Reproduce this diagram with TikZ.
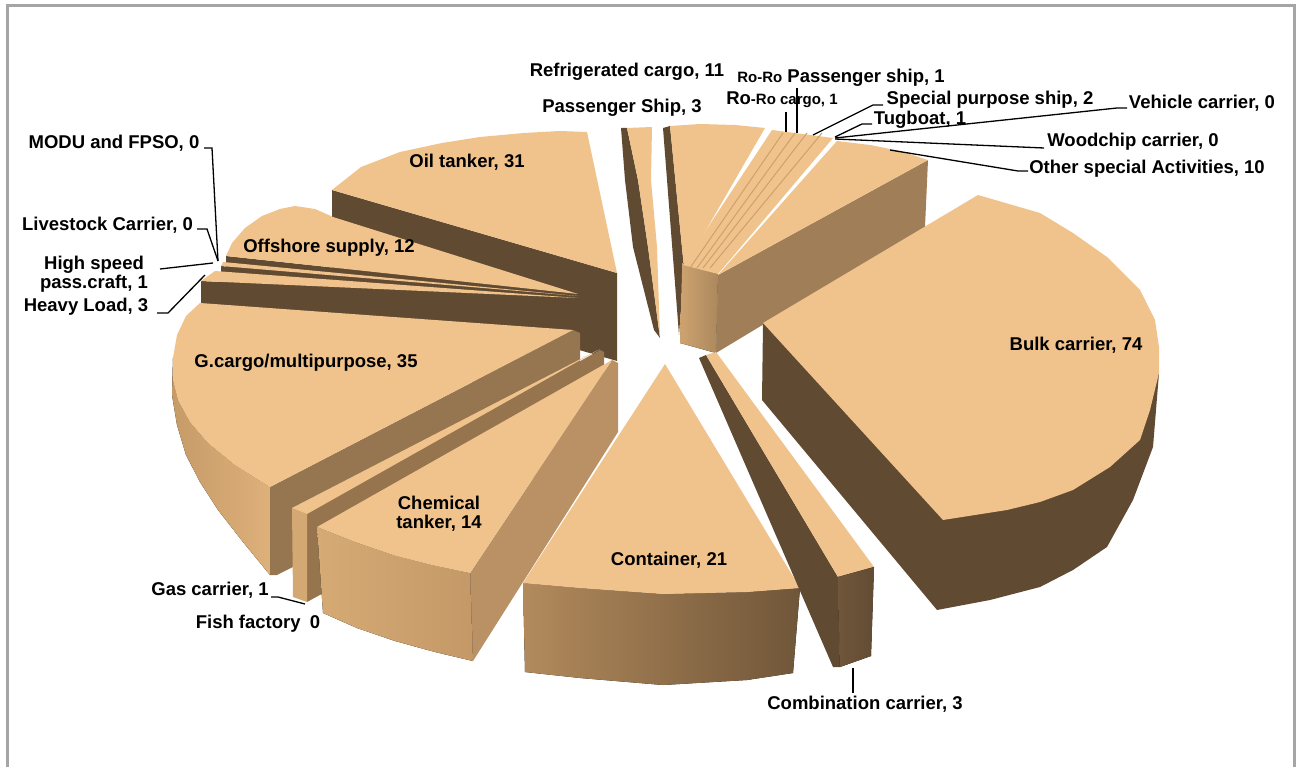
\documentclass[tikz,border=0pt]{standalone}
\usepackage{fontspec}
\setmainfont{Liberation Sans}
\definecolor{topc}{RGB}{241,195,140}
\definecolor{darkc}{RGB}{96,74,50}
\definecolor{medc}{RGB}{150,118,80}
\definecolor{sidec}{RGB}{185,145,100}
\definecolor{othc}{RGB}{160,127,88}
\definecolor{linec}{RGB}{205,160,108}
\definecolor{framec}{RGB}{165,165,165}
\definecolor{fanL}{RGB}{205,163,112}
\definecolor{fanR}{RGB}{172,136,93}
\definecolor{gcL}{RGB}{198,155,104}
\definecolor{gcR}{RGB}{222,176,122}
\definecolor{gasS}{RGB}{150,116,78}
\definecolor{gasF}{RGB}{212,168,115}
\definecolor{chL}{RGB}{214,170,116}
\definecolor{chR}{RGB}{196,153,103}
\definecolor{coL}{RGB}{178,138,92}
\definecolor{coR}{RGB}{112,86,57}
\definecolor{cbL}{RGB}{112,86,58}
\definecolor{cbR}{RGB}{98,76,52}
\newcommand\lblfont{\fontsize{18.5}{19}\selectfont\bfseries}
\newcommand\smlfont{\fontsize{15}{16}\selectfont\bfseries}
\begin{document}
\begin{tikzpicture}[x=1pt,y=-1pt,
  topface/.style={fill=topc},
  darkface/.style={fill=darkc},
  medface/.style={fill=medc},
  lbl/.style={font=\lblfont, inner sep=0pt, align=center},
  lead/.style={draw=black, line width=1.3pt}]
\useasboundingbox (0,0) rectangle (1298,767);
\clip (0,0) rectangle (1298,767);
\fill[white] (0,0) rectangle (1298,767);
\draw[framec, line width=3pt] (7.5,6) rectangle (1294.5,775);

% ---------- Oil tanker
\fill[darkface] (332,190) -- (617,273) -- (617,361) -- (332,278) -- cycle;
\fill[topface] (332,190) -- (361,167) -- (400,152) -- (442,143) -- (480,137) -- (524,133) -- (560,131) -- (587,132) -- (617,273) -- cycle;
% ---------- Offshore supply
\fill[darkface] (226,256) -- (578,294) -- (578,382) -- (226,344) -- cycle;
\fill[topface] (226,256) -- (232,243) -- (245,228) -- (262,216) -- (280,209) -- (295,206) -- (315,209) -- (333,217) -- (578,294) -- cycle;
% ---------- High speed
\fill[darkface] (221,266) -- (578,297) -- (578,385) -- (221,354) -- cycle;
\fill[topface] (223,262) -- (578,296) -- (221,266) -- cycle;
% ---------- Heavy load
\fill[darkface] (201,281) -- (578,299) -- (578,387) -- (201,369) -- cycle;
\fill[topface] (215,271) -- (578,298) -- (201,281) -- cycle;

% ---------- Passenger ship
\fill[darkface] (621,128) -- (627,128) -- (638,180) -- (648,247) -- (660,338) -- (654,330) -- (633,247) -- (625,180) -- cycle;
\fill[topface] (627,128) -- (652,127) -- (651,180) -- (657,247) -- (660,338) -- (648,247) -- (638,180) -- cycle;
% ---------- Refrigerated cargo
\fill[darkface] (663,128) -- (670,126) -- (684,268) -- (679,335) -- cycle;
\fill[topface] (670,126) -- (700,124) -- (735,125) -- (765,128) -- (684,268) -- cycle;
% ---------- Ro-Ro group
\fill[left color=fanL, right color=fanR] (682,263) -- (718,274) -- (716,353) -- (680,343) -- cycle;
\fill[topface] (772,130) -- (833,138) -- (718,274) -- (683,265) -- cycle;
\foreach \a/\b in {783/690, 795/697, 807/703, 822/710}
  \draw[linec, line width=1pt] (\a,133) -- (\b,268);
% ---------- Other special activities
\fill[othc] (718,275) -- (928,160) -- (925,227) -- (716,353) -- cycle;
\fill[topface] (718,275) -- (837,141) -- (870,145) -- (900,151) -- (928,160) -- cycle;

% ---------- G.cargo/multipurpose
\fill[left color=gcL, right color=gcR] (173,358) -- (173,380) -- (178,400) -- (190,422) -- (208,443) -- (235,465) -- (270,487) -- (270,575) -- (243,542) -- (218,510) -- (200,482) -- (186,455) -- (177,425) -- (172,395) -- cycle;
\fill[medface] (270,487) -- (573,330) -- (580,333) -- (580,421) -- (277,575) -- (270,575) -- cycle;
\fill[topface] (573,330) -- (200,303) -- (186,316) -- (177,335) -- (173,358) -- (173,380) -- (178,400) -- (190,422) -- (208,443) -- (235,465) -- (270,487) -- cycle;
% ---------- Gas carrier
\fill[gasS] (307,514) -- (600,350) -- (604,352) -- (604,440) -- (307,602) -- cycle;
\fill[gasF] (292,508) -- (307,514) -- (307,602) -- (293,597) -- cycle;
\fill[topface] (292,508) -- (600,349) -- (307,514) -- cycle;
% ---------- Chemical tanker
\fill[sidec] (470,573) -- (612,360) -- (618,363) -- (618,432) -- (473,661) -- cycle;
\fill[left color=chL, right color=chR] (317,527) -- (355,542) -- (393,555) -- (432,565) -- (470,573) -- (473,661) -- (435,652) -- (395,641) -- (357,628) -- (323,613) -- cycle;
\fill[topface] (612,360) -- (317,527) -- (355,542) -- (393,555) -- (432,565) -- (470,573) -- cycle;
% ---------- Container
\fill[left color=coL, right color=coR] (523,583) -- (580,588) -- (663,594) -- (747,592) -- (800,588) -- (793,673) -- (747,680) -- (663,685) -- (580,678) -- (525,672) -- cycle;
\fill[topface] (665,364) -- (523,583) -- (580,588) -- (663,594) -- (747,592) -- (800,588) -- cycle;
% ---------- Combination carrier
\fill[darkface] (699,358) -- (706,355) -- (838,577) -- (840,667) -- (833,667) -- cycle;
\fill[topface] (706,355) -- (716,352) -- (874,567) -- (838,577) -- cycle;
\fill[left color=cbL, right color=cbR] (838,577) -- (874,567) -- (871,656) -- (840,667) -- cycle;
% ---------- Bulk carrier
\fill[darkface] (763,323) -- (1159,373) -- (1153,447) -- (1133,500) -- (1107,547) -- (1073,570) -- (1040,587) -- (990,600) -- (937,610) -- (762,400) -- cycle;
\fill[topface] (763,323) -- (978,195) -- (1040,213) -- (1073,233) -- (1107,257) -- (1140,290) -- (1155,320) -- (1159,347) -- (1159,373) -- (1150,410) -- (1140,440) -- (1110,467) -- (1073,490) -- (1040,502) -- (1007,510) -- (943,520) -- cycle;

% ---------- Labels
\node[lbl] (modu) at (114,143) {MODU and FPSO, 0};
\node[lbl] (live) at (107.5,225) {Livestock Carrier, 0};
\node[lbl] (hsp) at (94,274) {High speed\\pass.craft, 1};
\node[lbl] (heavy) at (86,307) {Heavy Load, 3};
\node[lbl] (offs) at (329,248) {Offshore supply, 12};
\node[lbl] (oil) at (467,162) {Oil tanker, 31};
\node[lbl] (pass) at (622,108) {Passenger Ship, 3};
\node[lbl] (refr) at (627,72) {Refrigerated cargo, 11};
\node[lbl] (ropa) at (841,78) {{\smlfont Ro-Ro} Passenger ship, 1};
\node[lbl] (roca) at (782,100) {Ro{\smlfont -Ro cargo, 1}};
\node[lbl] (spec) at (990,100) {Special purpose ship, 2};
\node[lbl] (vehi) at (1202,103) {Vehicle carrier, 0};
\node[lbl] (tug) at (920,120) {Tugboat, 1};
\node[lbl] (wood) at (1133,142) {Woodchip carrier, 0};
\node[lbl] (other) at (1147,169) {Other special Activities, 10};
\node[lbl] (bulk) at (1076,345) {Bulk carrier, 74};
\node[lbl] (gcargo) at (306,363) {G.cargo/multipurpose, 35};
\node[lbl] (chem) at (439,514) {Chemical\\tanker, 14};
\node[lbl] (cont) at (669,560) {Container, 21};
\node[lbl] (comb) at (865,704) {Combination carrier, 3};
\node[lbl] (gas) at (210,590) {Gas carrier, 1};
\node[lbl] (fish) at (258,624) {Fish factory\enspace 0};

% ---------- Leader lines
\coordinate (moduA) at (204,148); \coordinate (moduB) at (212,148); \coordinate (moduE) at (218,261);
\draw[lead] (moduA) -- (moduB) -- (moduE);
\coordinate (liveA) at (197,229); \coordinate (liveB) at (207,229); \coordinate (liveE) at (218,261);
\draw[lead] (liveA) -- (liveB) -- (liveE);
\coordinate (hspA) at (160,269); \coordinate (hspE) at (213,263);
\draw[lead] (hspA) -- (hspE);
\coordinate (heavyA) at (157,313); \coordinate (heavyB) at (168,313); \coordinate (heavyE) at (205,275);
\draw[lead] (heavyA) -- (heavyB) -- (heavyE);
\coordinate (gasA) at (271,597); \coordinate (gasB) at (278,597); \coordinate (gasE) at (305,604);
\draw[lead] (gasA) -- (gasB) -- (gasE);
\coordinate (combA) at (853,668); \coordinate (combE) at (853,693);
\draw[lead] (combA) -- (combE);
\coordinate (otherA) at (1028,171); \coordinate (otherB) at (1018,171); \coordinate (otherE) at (890,150);
\draw[lead] (otherA) -- (otherB) -- (otherE);
\coordinate (woodA) at (1044,148); \coordinate (woodE) at (835,139);
\draw[lead] (woodA) -- (woodE);
\coordinate (vehiA) at (1127,108); \coordinate (vehiB) at (1117,108); \coordinate (vehiE) at (835,138);
\draw[lead] (vehiA) -- (vehiB) -- (vehiE);
\coordinate (tugA) at (872,124); \coordinate (tugB) at (862,124); \coordinate (tugE) at (835,137);
\draw[lead] (tugA) -- (tugB) -- (tugE);
\coordinate (specA) at (883,105); \coordinate (specB) at (873,105); \coordinate (specE) at (813,135);
\draw[lead] (specA) -- (specB) -- (specE);
\coordinate (ropaA) at (797,88); \coordinate (ropaE) at (797,133);
\draw[lead] (ropaA) -- (ropaE);
\coordinate (rocaA) at (786,112); \coordinate (rocaE) at (786,132);
\draw[lead] (rocaA) -- (rocaE);
\end{tikzpicture}
\end{document}
